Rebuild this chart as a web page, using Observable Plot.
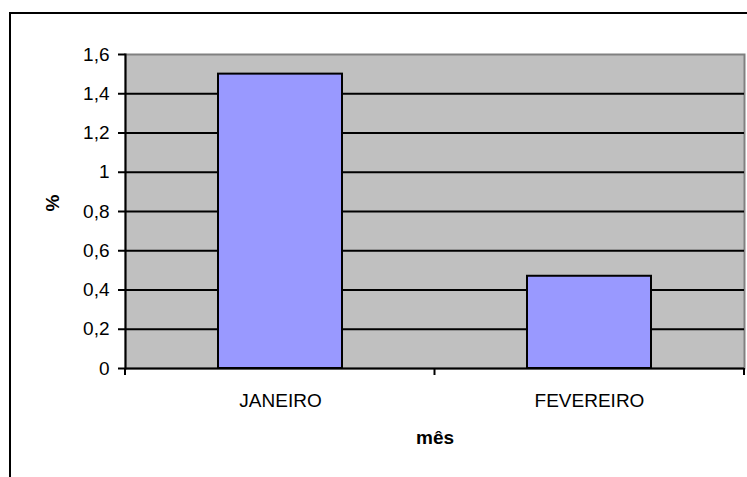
<!DOCTYPE html>
<html>
<head>
<meta charset="utf-8">
<script src="https://cdn.jsdelivr.net/npm/d3@7"></script>
<script src="https://cdn.jsdelivr.net/npm/@observablehq/plot@0.6"></script>
<style>
  html, body { margin: 0; padding: 0; background: #fff; }
  #chart svg { display: block; overflow: visible; }
</style>
</head>
<body>
<div id="chart"></div>
<script>
const categories = ["JANEIRO", "FEVEREIRO"];
const values = [1.5, 0.47];
const yTicks = [0, 0.2, 0.4, 0.6, 0.8, 1, 1.2, 1.4, 1.6];
const gridLines = [0.2, 0.4, 0.6, 0.8, 1, 1.2, 1.4];
const xLabel = "mês";
const yLabel = "%";

const data = categories.map((c, i) => ({cat: c, v: values[i]}));
const fmt = d => String(+d.toFixed(1)).replace(".", ",");
const FONT = "'Liberation Sans', Arial, sans-serif";

const plot = Plot.plot({
  width: 747,
  height: 477,
  marginLeft: 125,
  marginTop: 54,
  marginRight: 3,
  marginBottom: 109,
  style: {fontFamily: FONT, fontSize: "19px", color: "#000", background: "transparent"},
  x: {type: "band", domain: categories, paddingInner: 0.6, paddingOuter: 0.3},
  y: {domain: [0, 1.6]},
  marks: [
    Plot.frame({fill: "#c0c0c0", stroke: "#808080", strokeWidth: 2}),
    Plot.ruleY(gridLines, {stroke: "#000", strokeWidth: 2}),
    Plot.barY(data, {x: "cat", y: "v", fill: "#9999ff", stroke: "#000", strokeWidth: 2}),
    Plot.ruleY([0], {stroke: "#000", strokeWidth: 2}),
    Plot.frame({anchor: "left", stroke: "#000", strokeWidth: 2}),
    Plot.axisY({ticks: yTicks, tickFormat: fmt, tickSize: 7, tickPadding: 9, label: null, stroke: "#000", strokeWidth: 2, fontSize: 19}),
    Plot.axisX({tickSize: 0, tickPadding: 25, label: null, fontSize: 19}),
    Plot.text([xLabel], {frameAnchor: "bottom", dy: 75, text: d => d, fontWeight: "bold", fontSize: 19, letterSpacing: 4.5}),
    Plot.text([yLabel], {frameAnchor: "left", dx: -73, rotate: -90, text: d => d, fontWeight: "bold", fontSize: 19})
  ]
});

document.getElementById("chart").appendChild(plot);

// outer chart-area border and category-boundary ticks
const svg = d3.select(plot);
svg.insert("rect", ":first-child")
  .attr("x", 10).attr("y", 13).attr("width", 760).attr("height", 480)
  .attr("fill", "#fff").attr("stroke", "#000").attr("stroke-width", 2);

const xs = plot.scale("x");
const band = d3.scaleBand().domain(xs.domain).range(xs.range)
  .paddingInner(0.6).paddingOuter(0.3);
const gap = (band.step() - band.bandwidth()) / 2;
const bounds = categories.map(c => band(c) - gap)
  .concat([band(categories[categories.length - 1]) + band.bandwidth() + gap]);
const y0 = plot.scale("y").apply(0);
svg.append("g").selectAll("line").data(bounds).join("line")
  .attr("x1", d => d).attr("x2", d => d)
  .attr("y1", y0).attr("y2", y0 + 7)
  .attr("stroke", "#000").attr("stroke-width", 2);
</script>
</body>
</html>
